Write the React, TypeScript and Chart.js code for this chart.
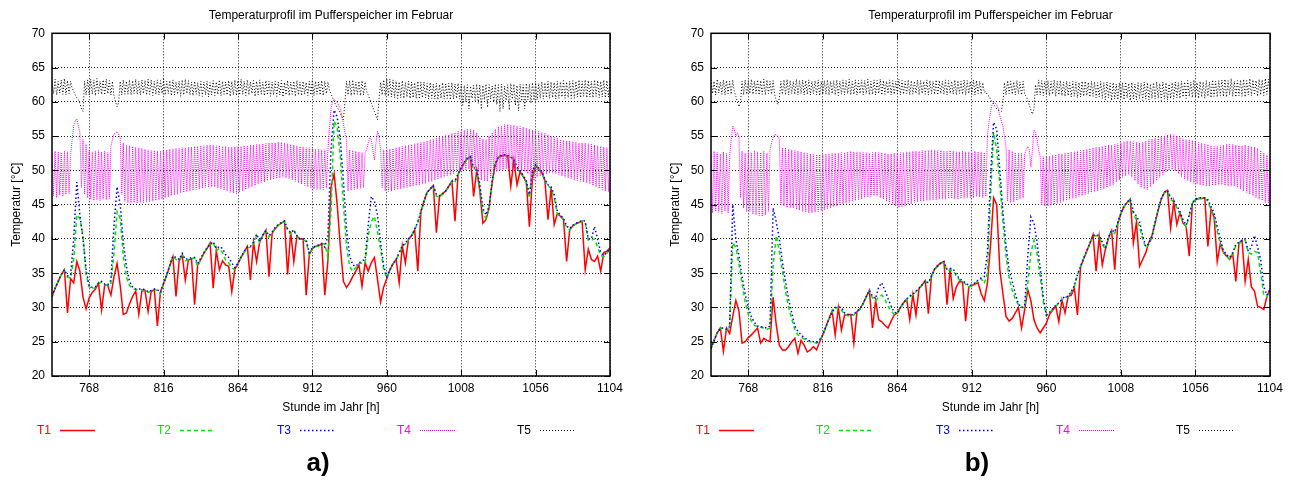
import { useEffect, useRef } from "react";
import { Chart, registerables } from "chart.js";

Chart.register(...registerables);

const FONT = '"Liberation Sans", Arial, Helvetica, sans-serif';

// hours of the year (1 Feb = hour 744)
const HOURS_2H: number[] = Array.from({ length: 181 }, (_, i) => 744 + 2 * i);
const HOURS_1H: number[] = Array.from({ length: 361 }, (_, i) => 744 + i);
const X_TICKS = [768, 816, 864, 912, 960, 1008, 1056, 1104];
const Y_TICKS = [20, 25, 30, 35, 40, 45, 50, 55, 60, 65, 70];
const SERIES_LABELS = ["T1", "T2", "T3", "T4", "T5"];
const TITLE = "Temperaturprofil im Pufferspeicher im Februar";
const X_TITLE = "Stunde im Jahr [h]";
const Y_TITLE = "Temperatur [°C]";

// ---------- panel a (2-hourly T1..T3, hourly T4/T5) ----------
const A_T1 = [
  31.6, 32.8, 33.8, 34.8, 35.5, 29.2, 34.2, 33.6, 36.7, 35.3, 31.5, 29.8,
  31.4, 32.2, 32.7, 33.5, 29.6, 33.3, 33.2, 31.8, 34.5, 36.4, 33.2, 29.0,
  29.2, 30.5, 31.6, 32.4, 29.0, 32.4, 32.5, 29.4, 32.3, 32.6, 27.3, 32.3,
  33.5, 34.7, 36.1, 37.4, 31.6, 36.8, 37.6, 34.0, 36.9, 37.1, 30.4, 36.2,
  37.0, 37.9, 38.6, 39.4, 32.8, 38.3, 35.5, 36.8, 36.2, 36.0, 32.3, 35.6,
  36.4, 37.3, 38.1, 38.9, 34.0, 39.5, 36.7, 39.6, 40.5, 41.3, 34.5, 40.8,
  41.5, 42.0, 42.3, 42.6, 34.8, 41.0, 36.7, 40.4, 40.0, 40.0, 31.8, 37.7,
  38.6, 38.9, 39.0, 39.3, 31.8, 36.8, 47.5, 49.5, 45.0, 39.0, 33.8, 32.9,
  33.6, 34.5, 35.3, 36.2, 33.1, 36.5, 35.3, 36.5, 37.3, 34.1, 30.8, 33.0,
  34.2, 35.5, 36.4, 37.0, 33.6, 39.0, 36.5, 40.0, 40.5, 41.3, 35.3, 44.0,
  45.5, 46.8, 47.3, 47.8, 40.9, 46.2, 46.6, 47.0, 47.7, 48.4, 42.6, 49.4,
  50.3, 51.1, 51.7, 52.0, 46.2, 50.0, 47.0, 42.3, 42.8, 44.5, 48.3, 50.9,
  51.9, 52.1, 52.2, 52.1, 47.7, 51.5, 47.9, 49.8, 49.1, 48.3, 41.8, 49.0,
  50.7, 50.2, 49.7, 48.5, 42.8, 47.4, 42.1, 43.7, 43.3, 42.8, 36.7, 41.3,
  41.9, 42.2, 42.4, 42.6, 35.5, 38.5, 37.0, 36.7, 37.5, 35.3, 38.0, 38.2,
  38.7,
];
const A_T2 = [
  31.6, 32.8, 33.8, 34.8, 35.4, 34.4, 34.3, 37.0, 43.5, 43.0, 40.5, 34.8,
  33.0, 32.7, 32.9, 33.5, 33.7, 33.3, 33.2, 33.5, 38.0, 44.0, 43.0, 37.5,
  34.5, 33.2, 32.8, 32.6, 32.6, 32.6, 32.5, 32.2, 32.4, 32.6, 32.5, 32.0,
  33.4, 34.7, 36.1, 37.4, 37.0, 36.8, 37.8, 36.8, 37.0, 37.1, 37.2, 36.0,
  37.0, 37.9, 38.6, 39.1, 39.5, 38.3, 38.6, 38.0, 36.9, 36.5, 35.8, 35.5,
  36.3, 37.3, 38.1, 38.7, 38.8, 39.3, 40.5, 39.5, 40.5, 41.1, 40.3, 40.9,
  41.6, 42.0, 42.3, 42.5, 41.2, 40.7, 41.2, 40.3, 39.9, 39.9, 39.6, 37.7,
  38.6, 38.9, 39.0, 39.2, 39.3, 37.3, 44.0, 57.2, 56.3, 52.0, 45.0, 39.0,
  36.0, 35.3, 35.8, 36.4, 36.5, 36.5, 40.5, 42.5, 43.3, 41.0, 38.5, 35.5,
  34.3, 35.4, 36.3, 36.9, 37.9, 38.9, 39.3, 39.9, 40.4, 41.3, 42.4, 43.9,
  45.4, 46.7, 47.2, 47.7, 46.2, 46.1, 46.5, 46.9, 47.6, 48.3, 48.3, 49.4,
  50.3, 51.1, 51.7, 51.8, 50.2, 50.0, 47.5, 43.8, 43.0, 44.5, 48.3, 50.9,
  51.9, 52.1, 52.2, 52.0, 51.9, 51.5, 50.3, 49.7, 49.1, 48.3, 46.0, 49.8,
  50.7, 50.2, 49.7, 48.5, 47.7, 47.4, 46.0, 43.7, 43.3, 42.8, 41.7, 41.3,
  41.9, 42.2, 42.4, 42.6, 42.4, 39.8, 39.8, 40.0, 38.8, 37.6, 37.4, 37.9,
  38.6,
];
const A_T3 = [
  31.6, 32.8, 33.8, 34.8, 35.5, 34.6, 34.7, 40.0, 48.3, 43.5, 40.0, 35.5,
  33.2, 32.9, 33.0, 33.6, 33.8, 33.4, 33.3, 34.0, 42.0, 47.6, 45.0, 39.5,
  36.0, 33.8, 33.0, 32.7, 32.7, 32.7, 32.6, 32.3, 32.5, 32.7, 32.6, 32.2,
  33.5, 34.8, 36.2, 37.5, 37.3, 37.0, 37.9, 37.0, 37.2, 37.2, 37.3, 36.4,
  37.2, 38.0, 38.7, 39.2, 39.6, 38.6, 38.9, 38.6, 37.7, 37.3, 36.5, 35.8,
  36.5, 37.4, 38.2, 38.8, 38.9, 39.5, 40.7, 39.7, 40.6, 41.2, 40.5, 41.0,
  41.7, 42.1, 42.4, 42.6, 41.5, 40.9, 41.3, 40.5, 40.0, 40.0, 39.8, 38.0,
  38.7, 39.0, 39.1, 39.3, 38.8, 40.5, 53.0, 58.8, 57.8, 54.5, 48.5, 41.5,
  37.5, 36.2, 36.0, 36.5, 36.8, 37.0, 42.0, 46.2, 45.5, 43.5, 39.5, 36.0,
  34.5, 35.5, 36.4, 37.0, 38.0, 39.0, 39.4, 40.0, 40.5, 41.4, 42.5, 44.0,
  45.5, 46.8, 47.3, 47.8, 46.5, 46.3, 46.6, 47.0, 47.7, 48.4, 48.5, 49.5,
  50.4, 51.2, 51.8, 52.0, 50.4, 50.2, 48.0, 44.5, 43.5, 44.8, 48.5, 51.0,
  52.0, 52.2, 52.3, 52.2, 52.0, 51.6, 50.5, 49.9, 49.3, 48.5, 46.5, 50.0,
  50.8, 50.3, 49.8, 48.7, 47.9, 47.6, 46.5, 44.0, 43.5, 43.0, 41.9, 41.5,
  42.0, 42.3, 42.5, 42.7, 42.6, 40.0, 40.0, 41.8, 40.0, 38.0, 37.6, 38.0,
  38.7,
];
const A_T4 = [
  52.5, 46.3, 52.8, 46.0, 52.7, 46.4, 52.6, 46.2, 52.8, 46.5, 52.7, 46.6,
  52.2, 54.5, 56.5, 57.3, 57.5, 56.5, 55.5, 47.5, 54.5, 46.5, 53.8, 46.0,
  52.9, 45.8, 52.7, 45.6, 52.8, 45.7, 52.9, 45.6, 52.7, 45.8, 52.8, 45.7,
  52.6, 45.9, 53.5, 54.5, 55.3, 55.5, 55.6, 55.3, 54.8, 46.5, 54.0, 45.5,
  53.7, 45.3, 53.6, 45.2, 53.5, 45.3, 53.4, 45.2, 53.3, 45.3, 53.2, 45.3,
  53.1, 45.4, 53.0, 45.4, 52.9, 45.5, 52.9, 45.6, 52.8, 45.7, 52.8, 45.8,
  53.0, 46.0, 53.0, 46.1, 53.1, 46.3, 53.1, 46.4, 53.2, 46.5, 53.2, 46.7,
  53.3, 46.8, 53.3, 46.9, 53.4, 47.0, 53.4, 47.1, 53.5, 47.2, 53.5, 47.3,
  53.6, 47.4, 53.6, 47.5, 53.7, 47.5, 53.7, 47.6, 53.7, 47.6, 53.6, 47.4,
  53.6, 47.3, 53.5, 47.1, 53.5, 47.0, 53.4, 46.8, 53.4, 46.7, 53.4, 46.6,
  53.5, 46.8, 53.5, 47.0, 53.6, 47.2, 53.6, 47.4, 53.7, 47.6, 53.7, 47.8,
  53.8, 48.0, 53.8, 48.2, 53.9, 48.3, 53.9, 48.5, 54.0, 48.6, 54.0, 48.7,
  54.0, 48.8, 54.1, 48.9, 54.1, 49.0, 54.0, 48.9, 53.9, 48.8, 53.8, 48.6,
  53.7, 48.4, 53.6, 48.2, 53.5, 48.0, 53.4, 47.8, 53.3, 47.6, 53.3, 47.5,
  53.2, 47.3, 53.1, 47.2, 53.1, 47.2, 53.0, 47.2, 53.0, 47.4, 53.0, 56.0,
  59.0, 60.1, 60.3, 60.2, 59.9, 59.5, 59.0, 58.0, 56.8, 55.5, 54.5, 47.0,
  53.0, 47.1, 52.9, 47.2, 52.8, 47.3, 52.7, 47.4, 52.6, 47.5, 52.6, 53.0,
  54.0, 54.8, 54.5, 53.0, 51.5, 54.0, 55.7, 55.0, 53.0, 47.5, 53.0, 47.0,
  53.0, 46.9, 53.1, 47.0, 53.2, 47.1, 53.3, 47.2, 53.4, 47.3, 53.5, 47.4,
  53.6, 47.5, 53.7, 47.6, 53.8, 47.7, 53.9, 47.8, 54.0, 47.9, 54.1, 48.0,
  54.2, 48.1, 54.3, 48.3, 54.5, 48.4, 54.6, 48.6, 54.7, 48.7, 54.9, 48.9,
  55.0, 49.0, 55.1, 49.2, 55.2, 49.3, 55.4, 49.5, 55.5, 49.7, 55.7, 49.8,
  55.8, 50.0, 55.9, 50.1, 56.0, 50.2, 56.0, 50.3, 55.9, 50.3, 55.5, 49.8,
  54.8, 48.6, 54.6, 48.5, 54.5, 48.4, 55.0, 48.8, 55.5, 49.5, 56.0, 49.8,
  56.4, 50.0, 56.5, 50.1, 56.7, 50.2, 56.7, 50.2, 56.6, 50.1, 56.6, 50.1,
  56.5, 50.0, 56.4, 49.9, 56.3, 49.8, 56.2, 49.5, 56.0, 48.0, 55.9, 48.5,
  55.8, 49.0, 55.7, 49.2, 55.5, 49.3, 55.4, 49.5, 55.2, 49.6, 55.0, 49.6,
  54.8, 49.5, 54.7, 49.4, 54.5, 49.2, 54.4, 49.0, 54.3, 48.9, 54.3, 48.8,
  54.2, 48.6, 54.1, 48.5, 54.0, 48.4, 54.0, 48.3, 54.0, 48.2, 53.9, 48.0,
  53.8, 47.8, 53.7, 47.6, 53.6, 47.4, 53.5, 47.2, 53.4, 47.0, 53.3, 46.9,
  53.2,
];
const A_T5 = [
  63.1, 61.2, 63.3, 61.0, 63.0, 61.3, 63.2, 61.1, 63.4, 61.0, 63.1, 61.2,
  63.0, 62.0, 61.5, 61.0, 60.6, 60.3, 59.8, 59.0, 58.6, 63.0, 61.0, 63.2,
  61.0, 63.3, 61.1, 63.2, 60.9, 63.4, 61.2, 63.0, 61.1, 63.2, 61.0, 63.3,
  61.2, 63.1, 61.0, 63.0, 60.8, 60.0, 59.3, 59.9, 63.0, 61.0, 63.2, 61.1,
  63.0, 61.1, 63.2, 61.0, 63.1, 61.2, 63.3, 61.1, 63.0, 61.0, 63.2, 61.2,
  63.1, 61.0, 63.3, 61.1, 63.2, 60.9, 63.0, 61.1, 63.2, 61.0, 63.1, 61.2,
  63.3, 61.0, 63.0, 61.2, 63.1, 60.9, 63.2, 61.0, 62.9, 61.1, 63.0, 60.8,
  63.2, 61.0, 63.3, 61.2, 63.1, 61.0, 62.9, 60.9, 63.0, 61.1, 62.8, 60.9,
  63.0, 60.8, 62.9, 61.0, 63.0, 60.7, 62.8, 61.0, 63.1, 60.9, 62.9, 61.1,
  63.2, 60.9, 63.0, 61.1, 62.9, 61.0, 63.1, 60.8, 63.0, 61.0, 63.2, 60.9,
  63.1, 61.0, 63.3, 61.1, 63.0, 60.9, 63.2, 61.0, 62.9, 61.2, 63.1, 60.8,
  63.0, 61.0, 63.2, 61.1, 62.9, 60.9, 63.1, 61.0, 63.0, 60.8, 62.9, 61.0,
  63.0, 60.8, 62.9, 61.0, 63.1, 60.7, 62.8, 61.0, 63.1, 60.9, 62.9, 61.1,
  63.0, 60.8, 63.1, 61.0, 62.9, 60.9, 63.0, 61.1, 62.8, 60.9, 63.0, 61.0,
  63.2, 60.9, 63.0, 61.1, 62.9, 61.0, 63.1, 60.9, 63.0, 61.2, 62.9, 61.7,
  61.2, 60.6, 60.1, 59.6, 59.2, 58.8, 58.3, 57.9, 57.4, 60.0, 63.0, 61.0,
  63.1, 60.9, 63.2, 61.0, 62.9, 61.1, 63.0, 60.9, 63.1, 61.0, 62.9, 61.5,
  61.0, 60.4, 59.8, 59.2, 58.6, 58.0, 57.4, 60.5, 62.8, 61.0, 63.2, 60.9,
  63.4, 60.8, 63.3, 60.7, 63.2, 60.6, 63.0, 60.5, 62.9, 60.6, 63.1, 60.5,
  62.8, 60.7, 63.0, 60.5, 62.9, 60.6, 62.8, 60.5, 63.0, 60.4, 62.9, 60.6,
  62.9, 60.6, 62.7, 60.4, 62.8, 60.5, 62.6, 60.4, 62.7, 60.3, 62.5, 60.5,
  62.8, 60.4, 62.6, 60.5, 62.7, 60.3, 62.8, 60.4, 62.6, 60.5, 62.7, 60.4,
  62.6, 59.5, 62.4, 60.0, 62.5, 59.0, 62.3, 60.5, 62.4, 60.2, 62.6, 59.8,
  62.5, 58.9, 62.4, 60.3, 62.6, 59.2, 62.5, 60.4, 62.3, 60.0, 62.6, 59.6,
  62.5, 58.6, 62.6, 59.0, 62.3, 60.2, 62.5, 58.8, 62.7, 60.4, 62.6, 59.5,
  62.4, 58.7, 62.6, 60.1, 62.5, 59.0, 62.7, 60.3, 62.6, 59.8, 62.8, 60.2,
  62.8, 60.3, 62.7, 60.5, 62.9, 60.4, 62.8, 60.6, 63.0, 60.5, 62.9, 60.6,
  62.8, 60.4, 63.0, 60.5, 62.9, 60.7, 63.1, 60.5, 62.9, 60.6, 63.0, 60.5,
  63.1, 60.5, 63.0, 60.7, 63.2, 60.6, 63.0, 60.8, 63.2, 60.6, 63.1, 60.7,
  63.0, 60.6, 63.2, 60.8, 63.1, 60.6, 63.0, 60.7, 63.2, 60.6, 63.1, 60.7,
  63.0,
];

// ---------- panel b ----------
const B_T1 = [
  24.0, 25.2, 26.3, 27.0, 23.6, 27.0, 26.2, 28.7, 31.0, 29.5, 24.8, 25.0,
  25.6, 26.0, 26.5, 27.0, 24.8, 25.5, 25.2, 25.0, 31.5, 27.5, 24.5, 23.8,
  23.8, 24.3, 25.0, 25.5, 23.3, 25.2, 24.5, 23.5, 23.8, 24.3, 23.8, 25.0,
  26.0, 27.2, 28.4, 29.5, 26.0, 30.0, 26.7, 28.9, 28.9, 29.0, 24.8, 29.4,
  29.8, 30.6, 31.6, 32.5, 27.0, 31.0, 28.2, 27.9, 27.4, 27.0, 28.0, 28.9,
  29.2, 30.0, 30.7, 31.2, 28.2, 31.9, 28.9, 32.8, 33.3, 33.9, 29.1, 34.6,
  35.6, 36.1, 36.5, 36.7, 30.4, 35.7, 31.3, 33.0, 33.8, 33.7, 28.0, 33.0,
  33.2, 33.4, 33.6, 32.0, 31.0, 33.5, 39.0, 46.0, 45.0, 35.5, 32.0, 28.7,
  28.0, 28.4, 29.2, 30.0, 27.0, 29.7, 32.6, 31.0, 28.2, 27.0, 26.3, 27.0,
  27.7, 29.0, 29.6, 30.2, 27.9, 31.1, 29.2, 31.6, 31.8, 32.8, 28.9, 35.9,
  37.1, 38.2, 39.3, 40.6, 35.3, 40.3, 36.2, 38.5, 40.1, 41.2, 35.5, 42.3,
  43.7, 44.7, 45.3, 45.8, 39.4, 42.5, 36.0, 37.0, 38.0, 39.5, 40.5, 42.3,
  44.2, 45.8, 46.8, 47.1, 41.6, 45.4, 42.1, 43.8, 42.3, 41.8, 37.5, 45.2,
  45.7, 45.9, 45.9, 46.0, 38.9, 44.3, 43.2, 36.7, 39.3, 38.0, 37.5, 37.0,
  37.8, 33.8, 39.4, 39.8, 33.8, 37.0, 33.0, 32.4, 30.2, 30.0, 29.7, 31.6,
  32.6,
];
const B_T2 = [
  24.0, 25.2, 26.3, 27.0, 26.9, 26.7, 27.0, 39.4, 38.8, 36.3, 33.5, 30.8,
  29.0, 28.0, 27.4, 27.2, 27.1, 27.0, 26.8, 27.0, 36.0, 40.5, 38.2, 35.3,
  32.3, 30.0, 28.3, 26.8, 26.0, 25.7, 25.4, 25.2, 25.0, 24.9, 24.8, 25.2,
  26.0, 27.2, 28.3, 29.3, 29.9, 30.0, 29.6, 29.0, 28.8, 28.8, 28.9, 29.4,
  29.7, 30.5, 31.5, 32.4, 31.4, 31.0, 31.5, 31.8, 31.2, 30.2, 29.5, 29.0,
  29.1, 29.9, 30.6, 31.1, 31.6, 31.8, 32.3, 32.7, 33.2, 33.8, 33.5, 34.5,
  35.5, 36.0, 36.4, 36.6, 35.4, 35.5, 35.4, 34.6, 34.0, 33.8, 33.4, 33.0,
  33.2, 33.5, 33.9, 34.2, 33.5, 35.0, 46.0, 55.5, 53.0, 48.0, 42.5, 37.5,
  34.3, 32.5, 31.2, 30.4, 30.0, 30.0, 33.5, 38.0, 39.8, 37.8, 34.5, 30.8,
  28.8, 29.2, 29.7, 30.2, 30.6, 31.1, 31.5, 31.5, 32.2, 33.1, 34.7, 35.9,
  37.1, 38.2, 39.3, 40.4, 40.5, 40.3, 39.2, 38.5, 40.1, 41.2, 40.8, 42.3,
  43.7, 44.7, 45.3, 45.7, 43.5, 42.8, 41.8, 40.0, 38.7, 39.2, 40.2, 42.4,
  44.2, 45.8, 46.7, 47.0, 45.8, 45.4, 44.5, 43.6, 42.4, 41.8, 43.3, 45.2,
  45.7, 45.9, 45.9, 45.9, 45.5, 44.3, 43.2, 41.0, 39.5, 38.1, 37.5, 37.1,
  37.8, 39.0, 39.3, 39.6, 39.8, 38.0, 37.8, 38.2, 38.0, 35.0, 31.8, 31.6,
  32.6,
];
const B_T3 = [
  24.0, 25.2, 26.3, 27.0, 27.0, 26.8, 27.2, 45.0, 40.0, 37.5, 34.5, 32.0,
  30.0, 28.6, 27.8, 27.3, 27.2, 27.1, 27.0, 27.3, 44.5, 42.5, 40.0, 36.6,
  33.8, 31.2, 29.2, 27.3, 26.5, 26.0, 25.6, 25.3, 25.1, 25.0, 24.9, 25.3,
  26.0, 27.2, 28.3, 29.3, 30.0, 30.1, 30.0, 29.2, 29.0, 28.9, 29.0, 29.5,
  29.8, 30.6, 31.6, 32.5, 31.6, 31.3, 33.0, 33.6, 32.5, 31.3, 30.2, 29.3,
  29.2, 30.0, 30.7, 31.2, 31.7, 31.9, 32.4, 32.8, 33.3, 33.9, 33.6, 34.6,
  35.6, 36.1, 36.5, 36.7, 35.6, 35.7, 35.6, 34.8, 34.2, 33.9, 33.6, 33.2,
  33.3, 33.6, 34.0, 34.3, 34.5, 38.0, 49.0, 57.0, 56.0, 50.0, 44.0, 39.0,
  35.5, 33.8, 32.0, 30.5, 30.0, 30.2, 37.5, 43.2, 42.3, 39.5, 35.8, 31.5,
  28.9, 29.3, 29.8, 30.3, 30.7, 31.2, 31.6, 31.6, 32.3, 33.2, 34.8, 36.0,
  37.2, 38.3, 39.4, 40.5, 40.6, 40.5, 39.5, 38.7, 40.3, 41.3, 41.0, 42.4,
  43.8, 44.8, 45.4, 45.8, 44.0, 43.3, 42.5, 40.5, 38.9, 39.3, 40.3, 42.5,
  44.3, 45.9, 46.8, 47.1, 46.0, 45.6, 44.8, 44.0, 42.8, 42.0, 43.5, 45.3,
  45.8, 46.0, 46.0, 46.0, 45.7, 44.7, 43.8, 41.8, 40.0, 38.3, 37.7, 37.3,
  38.0, 39.2, 39.5, 39.8, 40.0, 38.2, 38.8, 40.5, 38.8, 37.0, 33.0, 31.8,
  32.6,
];
const B_T4 = [
  52.5, 43.8, 52.8, 44.0, 52.6, 43.9, 52.4, 43.7, 52.7, 44.1, 52.5, 43.8,
  52.0, 54.5, 56.5, 56.0, 55.0, 55.5, 55.0, 46.0, 52.8, 44.5, 52.5, 44.0,
  52.8, 44.0, 52.6, 43.6, 52.9, 43.5, 52.7, 43.4, 52.6, 43.3, 52.8, 43.5,
  52.5, 44.0, 53.0, 54.0, 54.8, 55.2, 55.2, 55.0, 54.5, 45.0, 53.3, 44.8,
  53.3, 44.6, 53.1, 44.5, 53.0, 44.5, 52.9, 44.3, 52.8, 44.2, 52.7, 44.0,
  52.6, 43.9, 52.5, 43.8, 52.4, 43.8, 52.3, 43.9, 52.3, 44.0, 52.3, 44.1,
  52.3, 44.2, 52.4, 44.4, 52.4, 44.5, 52.5, 44.7, 52.5, 44.8, 52.5, 45.0,
  52.6, 45.1, 52.6, 45.2, 52.7, 45.3, 52.8, 45.5, 52.7, 45.6, 52.7, 45.7,
  52.7, 45.8, 52.6, 46.0, 52.6, 46.1, 52.5, 46.2, 52.6, 46.3, 52.7, 46.3,
  52.6, 46.0, 52.6, 45.8, 52.5, 45.5, 52.4, 45.2, 52.4, 45.0, 52.5, 44.8,
  52.5, 44.6, 52.6, 44.7, 52.6, 44.8, 52.7, 45.0, 52.7, 45.1, 52.8, 45.3,
  52.8, 45.4, 52.8, 45.5, 52.9, 45.5, 52.9, 45.6, 52.9, 45.6, 53.0, 45.7,
  53.0, 45.7, 52.9, 45.8, 52.9, 45.8, 52.8, 45.8, 52.8, 45.9, 52.9, 45.9,
  52.8, 45.8, 52.7, 45.8, 52.7, 45.9, 52.8, 45.9, 52.7, 46.0, 52.7, 46.0,
  52.6, 46.0, 52.8, 46.2, 52.7, 46.1, 52.7, 46.0, 52.6, 46.2, 55.0, 57.0,
  58.5, 59.6, 59.9, 59.8, 59.6, 59.0, 58.0, 57.2, 56.4, 55.0, 53.5, 45.5,
  53.0, 45.3, 52.8, 45.4, 52.6, 45.6, 52.5, 45.8, 52.5, 46.0, 52.4, 53.0,
  53.5, 53.0, 50.5, 53.0, 55.9, 55.5, 54.5, 53.0, 52.0, 44.9, 52.0, 44.8,
  52.0, 44.8, 52.1, 44.9, 52.2, 45.0, 52.3, 45.2, 52.4, 45.3, 52.4, 45.5,
  52.5, 45.6, 52.6, 45.8, 52.7, 45.9, 52.7, 46.0, 52.8, 46.2, 52.9, 46.3,
  53.0, 46.5, 53.1, 46.6, 53.2, 46.8, 53.3, 46.9, 53.4, 47.0, 53.4, 47.2,
  53.5, 47.3, 53.6, 47.5, 53.7, 47.7, 53.7, 47.9, 53.8, 48.3, 53.9, 48.6,
  54.0, 49.0, 54.2, 49.2, 54.3, 49.4, 54.3, 49.0, 54.2, 48.5, 54.1, 48.0,
  54.0, 47.5, 54.1, 47.3, 54.3, 47.2, 54.5, 47.6, 54.6, 48.0, 54.7, 48.5,
  54.8, 49.0, 54.9, 49.4, 55.0, 49.8, 55.2, 50.0, 55.3, 50.1, 55.2, 49.9,
  55.0, 49.5, 54.8, 49.1, 54.6, 48.7, 54.5, 48.5, 54.5, 48.3, 54.4, 48.1,
  54.3, 48.0, 54.1, 47.9, 54.0, 47.8, 53.9, 47.7, 53.8, 47.7, 53.6, 47.8,
  53.5, 47.8, 53.5, 47.9, 53.6, 47.9, 53.7, 47.8, 53.8, 47.7, 53.8, 47.7,
  53.8, 47.7, 53.7, 47.5, 53.6, 47.3, 53.6, 47.0, 53.7, 46.8, 53.6, 46.5,
  53.5, 46.3, 53.4, 46.0, 53.2, 45.8, 52.9, 45.6, 52.5, 45.3, 52.2, 45.2,
  52.0,
];
const B_T5 = [
  63.2, 61.2, 63.0, 61.0, 63.3, 61.3, 62.9, 61.1, 63.2, 61.0, 63.1, 61.2,
  63.0, 61.1, 63.2, 61.5, 60.8, 60.0, 59.3, 59.8, 63.0, 61.0, 63.2, 61.1,
  63.1, 61.2, 63.3, 61.1, 63.0, 61.2, 63.2, 61.0, 63.1, 61.1, 63.3, 61.0,
  63.2, 61.2, 63.0, 61.1, 63.1, 61.0, 60.2, 59.6, 60.5, 63.0, 61.1, 63.2,
  61.0, 63.3, 61.0, 63.1, 61.2, 63.0, 61.1, 63.3, 61.0, 63.1, 61.2, 63.2,
  61.0, 63.1, 61.1, 63.2, 61.0, 63.0, 61.2, 63.1, 61.0, 63.2, 60.9, 63.0,
  61.1, 63.1, 61.1, 63.2, 61.0, 63.0, 61.2, 63.1, 61.0, 63.2, 60.9, 63.0,
  61.1, 63.2, 61.0, 63.1, 61.2, 63.3, 61.0, 63.0, 61.1, 63.2, 61.0, 63.1,
  61.2, 63.2, 61.0, 63.1, 61.2, 63.3, 61.0, 63.0, 61.1, 63.2, 61.0, 63.1,
  61.2, 63.3, 61.0, 63.1, 61.1, 63.0, 61.2, 63.2, 61.0, 63.1, 61.1, 63.0,
  61.2, 63.3, 61.0, 63.1, 61.1, 63.0, 61.2, 63.2, 61.0, 63.1, 61.1, 63.0,
  61.2, 63.2, 61.0, 63.1, 61.2, 63.0, 61.1, 63.2, 61.0, 63.1, 61.2, 63.0,
  61.1, 63.2, 61.0, 63.1, 61.2, 63.0, 61.1, 63.2, 61.0, 63.1, 61.2, 63.0,
  61.1, 63.2, 61.0, 63.1, 61.2, 63.0, 61.1, 63.2, 61.0, 63.1, 61.2, 63.0,
  61.1, 63.2, 61.0, 63.1, 61.2, 63.0, 61.1, 62.8, 61.4, 61.5, 61.0, 60.8,
  60.4, 60.0, 59.7, 59.3, 59.0, 58.8, 58.7, 58.6, 60.0, 62.8, 61.0, 63.1,
  61.2, 63.0, 61.1, 62.9, 61.0, 63.1, 61.2, 62.9, 61.0, 63.0, 61.1, 60.8,
  60.2, 59.5, 58.8, 58.2, 59.0, 62.5, 61.0, 63.2, 61.0, 63.1, 60.9, 63.0,
  61.0, 63.1, 60.9, 63.0, 61.1, 63.2, 60.8, 63.0, 61.0, 63.1, 60.9, 62.9,
  60.8, 63.0, 60.9, 62.8, 60.7, 63.0, 60.8, 62.9, 60.6, 62.8, 60.7, 63.0,
  60.8, 63.0, 60.9, 62.8, 60.7, 63.0, 60.8, 62.9, 60.6, 62.8, 60.7, 63.0,
  60.5, 62.8, 60.3, 62.9, 60.6, 62.7, 60.2, 62.8, 60.4, 62.6, 60.3, 62.8,
  60.5, 62.8, 60.3, 62.9, 60.6, 62.7, 60.2, 62.8, 60.4, 62.6, 60.3, 62.8,
  60.5, 62.7, 60.2, 62.9, 60.4, 62.8, 60.3, 62.6, 60.5, 62.8, 60.4, 62.9,
  60.5, 62.7, 60.2, 62.9, 60.4, 62.8, 60.3, 62.6, 60.5, 62.8, 60.4, 62.9,
  60.6, 62.8, 60.5, 63.0, 60.7, 62.9, 60.5, 63.1, 60.8, 62.9, 60.6, 63.2,
  60.6, 62.8, 60.5, 63.0, 60.7, 62.9, 60.5, 63.1, 60.8, 62.9, 60.6, 63.2,
  60.8, 63.0, 60.7, 63.1, 60.9, 63.2, 60.8, 63.3, 60.7, 63.1, 61.0, 63.4,
  60.8, 63.0, 60.7, 63.1, 60.9, 63.2, 60.8, 63.3, 60.7, 63.1, 61.0, 63.4,
  60.9, 63.2, 61.0, 63.1, 60.8, 63.3, 61.0, 63.2, 60.9, 63.4, 61.1, 63.3,
  61.2,
];

const SERIES_HOURS = [HOURS_2H, HOURS_2H, HOURS_2H, HOURS_1H, HOURS_1H];

const STYLES = [
  { color: "#ff0000", width: 1.5, dash: [] as number[] },
  { color: "#00e600", width: 1.5, dash: [4, 3] },
  { color: "#0000ff", width: 1.5, dash: [1.5, 2.5] },
  { color: "#ff00ff", width: 1, dash: [1, 1] },
  { color: "#000000", width: 1, dash: [1, 2] },
];

type PanelProps = {
  values: number[][];
  letter: string;
  left: number;
  canvasWidth: number;
  plotLeft: number;
  plotRight: number;
};

const CANVAS_H = 480;
const PLOT_BOTTOM = 376;
const X_AXIS_H = 39;

function Panel({ values, letter, left, canvasWidth, plotLeft, plotRight }: PanelProps) {
  const ref = useRef<HTMLCanvasElement | null>(null);

  useEffect(() => {
    const canvas = ref.current;
    if (!canvas) return;

    const decor = {
      id: "decor",
      afterDatasetsDraw(chart: any) {
        const { ctx, chartArea: a, scales } = chart;
        ctx.save();
        ctx.strokeStyle = "#000";
        ctx.setLineDash([]);
        ctx.lineWidth = 1;
        ctx.beginPath();
        for (const v of X_TICKS) {
          const px = Math.round(scales.x.getPixelForValue(v)) + 0.5;
          ctx.moveTo(px, a.bottom);
          ctx.lineTo(px, a.bottom - 6);
          ctx.moveTo(px, a.top);
          ctx.lineTo(px, a.top + 6);
        }
        for (const v of Y_TICKS) {
          const py = Math.round(scales.y.getPixelForValue(v)) + 0.5;
          ctx.moveTo(a.left, py);
          ctx.lineTo(a.left + 6, py);
          ctx.moveTo(a.right, py);
          ctx.lineTo(a.right - 6, py);
        }
        ctx.stroke();
        ctx.lineWidth = 1.5;
        ctx.strokeRect(a.left, a.top, a.right - a.left, a.bottom - a.top);
        ctx.restore();
      },
      afterDraw(chart: any) {
        const { ctx, chartArea: a } = chart;
        ctx.save();
        ctx.font = `12px ${FONT}`;
        ctx.textBaseline = "middle";
        ctx.textAlign = "left";
        chart.data.datasets.forEach((ds: any, i: number) => {
          const x = a.left - 15 + i * 120;
          const y = 431;
          ctx.fillStyle = ds.borderColor;
          ctx.fillText(ds.label, x, y);
          ctx.strokeStyle = ds.borderColor;
          ctx.lineWidth = ds.borderWidth;
          ctx.setLineDash(ds.borderDash || []);
          ctx.beginPath();
          ctx.moveTo(x + 23, y - 0.5);
          ctx.lineTo(x + 58, y - 0.5);
          ctx.stroke();
        });
        ctx.setLineDash([]);
        ctx.font = `bold 26px ${FONT}`;
        ctx.fillStyle = "#000";
        ctx.textAlign = "center";
        ctx.fillText(letter, a.left + 266, 464);
        ctx.restore();
      },
    };

    const chart = new Chart(canvas, {
      type: "line",
      data: {
        datasets: values.map((vals, i) => ({
          label: SERIES_LABELS[i],
          data: SERIES_HOURS[i].map((h, j) => ({ x: h, y: vals[j] })),
          borderColor: STYLES[i].color,
          backgroundColor: STYLES[i].color,
          borderWidth: STYLES[i].width,
          borderDash: STYLES[i].dash,
          pointRadius: 0,
          fill: false,
          tension: 0,
          order: 5 - i,
        })),
      },
      options: {
        responsive: false,
        animation: false,
        events: [],
        layout: {
          padding: {
            left: 0,
            right: canvasWidth - plotRight,
            top: 0,
            bottom: CANVAS_H - PLOT_BOTTOM - X_AXIS_H,
          },
        },
        plugins: {
          legend: { display: false },
          tooltip: { enabled: false },
          title: {
            display: true,
            text: TITLE,
            fullSize: false,
            color: "#000",
            font: { family: FONT, size: 12, weight: "normal" },
            padding: { top: 8, bottom: 10.9 },
          },
        },
        scales: {
          x: {
            type: "linear",
            min: 744,
            max: 1104,
            afterBuildTicks: (s: any) => {
              s.ticks = X_TICKS.map((v) => ({ value: v }));
            },
            afterFit: (s: any) => {
              s.height = X_AXIS_H;
            },
            grid: { color: "#222", lineWidth: 1, drawTicks: false },
            border: { display: false, dash: [1, 2] },
            ticks: {
              color: "#000",
              font: { family: FONT, size: 12 },
              padding: 5,
              maxRotation: 0,
              autoSkip: false,
              callback: (v: any) => String(v),
            },
            title: {
              display: true,
              text: X_TITLE,
              color: "#000",
              font: { family: FONT, size: 12 },
              padding: { top: 0, bottom: 0 },
            },
          },
          y: {
            type: "linear",
            min: 20,
            max: 70,
            afterBuildTicks: (s: any) => {
              s.ticks = Y_TICKS.map((v) => ({ value: v }));
            },
            afterFit: (s: any) => {
              s.width = plotLeft;
            },
            grid: { color: "#222", lineWidth: 1, drawTicks: false },
            border: { display: false, dash: [1, 2] },
            ticks: {
              color: "#000",
              font: { family: FONT, size: 12 },
              padding: 7,
              autoSkip: false,
              callback: (v: any) => String(v),
            },
            title: {
              display: true,
              text: Y_TITLE,
              color: "#000",
              font: { family: FONT, size: 12 },
              padding: { top: plotLeft - 42.2, bottom: 0 },
            },
          },
        },
      } as any,
      plugins: [decor],
    });

    return () => chart.destroy();
  }, [values, letter, canvasWidth, plotLeft, plotRight]);

  return (
    <canvas
      ref={ref}
      width={canvasWidth}
      height={CANVAS_H}
      style={{
        position: "absolute",
        left,
        top: 0,
        width: canvasWidth,
        height: CANVAS_H,
        display: "block",
      }}
    />
  );
}

const PANEL_A = [A_T1, A_T2, A_T3, A_T4, A_T5];
const PANEL_B = [B_T1, B_T2, B_T3, B_T4, B_T5];

export default function App() {
  return (
    <div
      style={{
        position: "absolute",
        left: 0,
        top: 0,
        width: 1293,
        height: 480,
        background: "#fff",
        overflow: "hidden",
      }}
    >
      <Panel values={PANEL_A} letter="a)" left={0} canvasWidth={646} plotLeft={52} plotRight={610} />
      <Panel values={PANEL_B} letter="b)" left={646} canvasWidth={647} plotLeft={65} plotRight={624} />
    </div>
  );
}
